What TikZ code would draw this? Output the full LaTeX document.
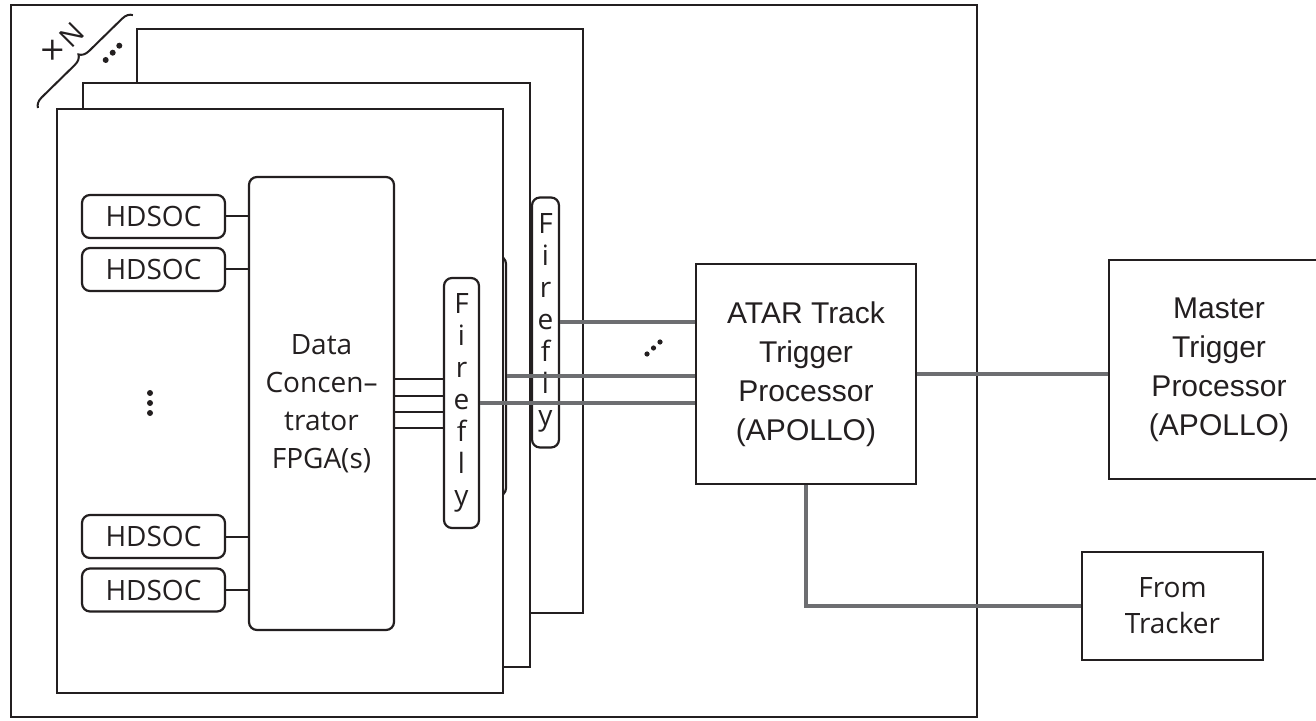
\documentclass[tikz,border=0pt]{standalone}
\usepackage{fontspec}
\setmainfont{Open Sans}
\newfontfamily\helv{Liberation Sans}
\usetikzlibrary{decorations.pathreplacing}
\definecolor{ink}{HTML}{231F20}
\definecolor{cablegray}{HTML}{6D6E71}
\tikzset{
	board/.style={draw=ink, line width=1pt, fill=white},
	chip/.style={draw=ink, line width=1.1pt, rounded corners=4pt, fill=white, inner sep=0pt, text=ink, font=\fontsize{14}{16}\selectfont},
	firefly/.style={chip, minimum width=17.5pt, minimum height=125pt, align=center},
	proc/.style={draw=ink, line width=1pt, fill=white, inner sep=0pt, align=center, text=ink, minimum width=110pt, minimum height=110pt, font=\helv\fontsize{15}{19.5}\selectfont},
	link/.style={draw=ink, line width=1pt},
	cable/.style={draw=cablegray, line width=2pt},
	blob/.style={circle, fill=ink, inner sep=0pt, minimum size=3pt}
}
\begin{document}
\begin{tikzpicture}[x=0.5pt, y=-0.5pt]
	\useasboundingbox (0,0) rectangle (1316,721);
	\draw[board] (11,5) rectangle (977,717);
	% stack of boards, back to front
	\draw[board] (137,29) rectangle (583,613);
	\node[firefly, minimum width=13.5pt] (ff3) at (545.5,322.5) {F\\i\\r\\e\\f\\l\\y};
	\draw[board] (83,83) rectangle (530,667);
	\node[firefly, minimum height=120pt] (ff2) at (488.5,376) {F\\i\\r\\e\\f\\l\\y};
	\draw[board] (57,109) rectangle (503,693);
	% xN brace
	\draw[ink, line width=1pt, decorate, decoration={brace, amplitude=5pt}] (38,108) -- (133,15);
	\node[rotate=45, inner sep=0pt, text=ink] (copies) at (63,43) {{\fontsize{18}{18}\selectfont ×}\hspace{1.5pt}{\fontsize{14}{16}\selectfont N}};
	\foreach \x/\y [count=\i] in {105.7/60, 112.7/52.7, 119.3/45.7}
		\node[blob] (tdot\i) at (\x,\y) {};
	% front board
	\node[chip, minimum width=72.5pt, minimum height=226.5pt, align=center, font=\fontsize{14}{19}\selectfont] (dc) at (321.5,403.5) {Data\\Concen–\\trator\\FPGA(s)};
	\foreach \y [count=\i] in {216.5, 269.5, 536.5, 590} {
		\node[chip, minimum width=71.5pt, minimum height=21.5pt] (hd\i) at (153.5,\y) {HDSOC};
		\draw[link] (hd\i.east) -- (hd\i.east -| dc.west);
	}
	\foreach \y [count=\i] in {393, 403, 413}
		\node[blob] (vdot\i) at (150,\y) {};
	\node[firefly] (ff1) at (461.5,403) {F\\i\\r\\e\\f\\l\\y};
	\foreach \d in {-12, -4, 4, 12}
		\draw[link] ([yshift=\d pt]dc.east) -- ([yshift=\d pt]dc.east -| ff1.west);
	% processors
	\node[proc] (atar) at (806,374) {ATAR Track\\Trigger\\Processor\\(APOLLO)};
	\node[proc, minimum height=109.5pt] (master) at (1219,369.5) {Master\\Trigger\\Processor\\(APOLLO)};
	\node[chip, rounded corners=0pt, minimum width=90.5pt, minimum height=54pt, align=center, font=\fontsize{14}{18}\selectfont] (tracker) at (1172.5,606) {From\\Tracker};
	% cables
	\draw[cable] (ff1.east) -- (ff1.east -| atar.west);
	\draw[cable] (ff2.east) -- (ff2.east -| atar.west);
	\draw[cable] (ff3.east) -- (ff3.east -| atar.west);
	\draw[cable] (atar.east) -- (atar.east -| master.west);
	\draw[cable] (atar.south) |- (tracker.west);
	\foreach \x/\y [count=\i] in {647/354, 653.5/348, 660/342}
		\node[blob, minimum size=2.6pt] (cdot\i) at (\x,\y) {};
\end{tikzpicture}
\end{document}
